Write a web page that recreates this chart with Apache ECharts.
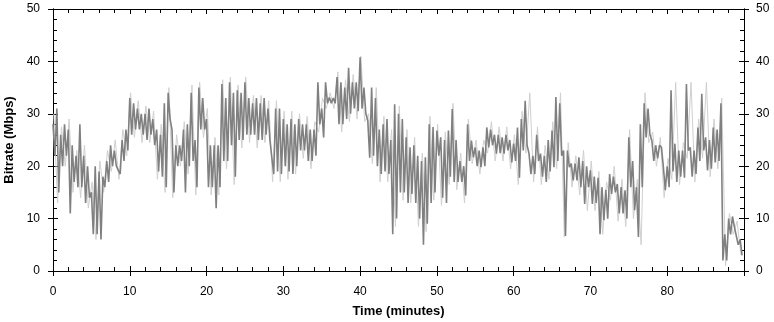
<!DOCTYPE html>
<html>
<head>
<meta charset="utf-8">
<script src="https://cdn.jsdelivr.net/npm/echarts@6/dist/echarts.min.js"></script>
<style>html,body{margin:0;padding:0;background:#fff;}#c{width:774px;height:322px;}</style>
</head>
<body>
<div id="c"></div>
<script>
// time step (minutes) between consecutive readings
const darkStep = 0.25;
const lightStep = 0.5;
// Bitrate (Mbps), dark trace (high/low pairs per half minute)
const darkValues = [
28,22, 31,15, 26,20, 28,22, 27,11, 24,17, 22,16, 28,16, 22,13, 20,14,
15,7, 20,7, 19,6, 18,16, 21,17, 24,20, 23,20, 20,18.5, 25,21, 27,23,
33,26, 32,27, 31,27, 30,26, 30,25, 31,26, 29,24, 27,19, 26,18, 32,16,
34,29, 27,15, 24,20, 24,21, 27,15, 28,20, 34,21, 25,16, 35,27, 33,27,
29,16, 24,16, 24,12, 24,16, 35.7,21, 33,21, 36,24, 34,18, 34.5,25, 34,25,
36,26, 33,26, 32,26, 33,25, 32,25, 33,26, 31,25, 25,18.5, 31,19, 31,18.5,
29,20, 28,19, 29,18.5, 28,20, 29,23, 28,23, 28,21, 27,21, 27,22, 36,28,
31,25.5, 36,32, 33.1,32, 33,32, 37,28, 36,28, 35,29, 38.8,30, 36,31, 36,30.5,
40.8,31, 35,30, 28.7,21.6, 35,22, 33,20, 27,18.5, 28,19, 29,18.5, 25,7, 31.8,10,
30,15, 29,15, 25.5,13, 23.6,14.7, 24,13, 22,10, 21,5, 21.7,9, 28,13, 27.5,15,
26.8,22, 25.5,14, 25,13, 26.8,18, 30.9,17, 25,17, 21,17, 20,14.4, 28,21, 24.9,21.7,
23.6,20, 23,19.8, 23.6,20, 27.4,23.6, 27,24, 26,22.4, 26,22.5, 25.5,22.4, 26,23, 25,20.7,
24.3,21, 27.4,17.8, 29,23, 32.5,24, 22.4,18.5, 22,18.5, 26,21, 22.4,18, 22,17, 25,19,
26.8,19.8, 33.2,21, 32,22, 23,6.7, 23,19.8, 20.5,17.3, 20.5,17.3, 21.7,16, 21,12.8, 20,16,
19.2,12.8, 18,13, 17.8,7, 16,9.7, 15.5,10, 18.5,14.7, 18,15, 16.6,11, 16,11, 15.4,10,
25.5,16, 21,11.6, 16,6.5, 28,16, 32,25.5, 31,26, 24.9,21, 24,21.5, 24,23.6, 19.8,15.4,
20,16, 34.5,19, 24.3,17, 23,18, 23,17.8, 35.7,23, 23.6,18, 23,18.5, 27.4,21, 33.8,23,
25.5,19.2, 25,19.5, 27.4,20.7, 27,21, 32,2, 7,2, 10,7, 10.4,8.4, 8.4,5, 6,3
];
// Bitrate (Mbps), light trace extremes, one reading per half minute
const lightValues = [
30,13,27.5,20,29,15,23,14,24,12, 17,6,21,15,23,19,25,17.5,27,22,
34,25.5,32.5,24.5,31.5,24.5,30.5,17.5,28,15, 35,14,26,20,28.5,18.5,35.5,14.5,36,25.5,
31,14.5,25.5,14.5,36.5,19.5,37,16.5,35.5,23.5, 37,24.5,33.5,23.5,33.5,24.5,32.5,17,32.5,17,
30.5,17.5,30.5,18.5,30,21.5,29.5,19.5,28.5,26.5, 33,31,34,31,38,26.5,36.5,28.5,37.5,29,
41,28.5,30,20.5,35,17,29.5,17,27,8.5, 31.5,13.5,27,13,25.5,8.5,22.5,7.5,29.5,13.5,
28,12.5,26.5,16.5,32,15.5,22.5,13,29,20.5, 25,18.5,25,22.5,28.5,21,27.5,21,27.5,19.5,
26,16.5,30.5,22.5,34,17,27.5,16.5,24,17.5, 28.5,19.5,34,6.5,24.5,16,22,14.5,23,11.5,
21,11.5,19,7,17,13.5,20,9.5,17.5,8.5, 27,10,17.5,5,34,24.5,26.5,20,25.5,14,
21.5,17.5,36,16.5,24.5,21.5,36,17,29,21.5, 36,18,29,19.5,33,1,11,7,9.5,3
];
const xTicks = [0, 10, 20, 30, 40, 50, 60, 70, 80];
const yTicks = [0, 10, 20, 30, 40, 50];

const darkData = darkValues.map((v, i) => [i * darkStep, v]);
const lightData = lightValues.map((v, i) => [i * lightStep + 0.1, v]);

const FONT = 'Liberation Sans';
const lineStyle = { color: '#000', width: 1 };
function xAx(pos, inside, labels) {
  return {
    type: 'value', position: pos, min: 0, max: 90, interval: 10,
    axisLine: { show: true, onZero: false, lineStyle },
    axisTick: { show: true, inside, length: 5, lineStyle },
    minorTick: { show: inside, splitNumber: 5, length: 4, lineStyle },
    splitLine: { show: false }, minorSplitLine: { show: false },
    axisLabel: labels ? {
      show: true, margin: 15, color: '#000', fontFamily: FONT, fontSize: 12,
      formatter: v => (xTicks.indexOf(v) >= 0 ? String(v) : '')
    } : { show: false },
    name: labels ? 'Time (minutes)' : '', nameLocation: 'middle', nameGap: 34,
    nameTextStyle: { color: '#000', fontFamily: 'Liberation Sans', fontWeight: 'bold', fontSize: 13 }
  };
}
function yAx(pos, inside, labels, named) {
  return {
    type: 'value', position: pos, min: 0, max: 50, interval: 10,
    axisLine: { show: true, onZero: false, lineStyle },
    axisTick: { show: true, inside, length: 5, lineStyle },
    minorTick: { show: inside, splitNumber: 5, length: 4, lineStyle },
    splitLine: { show: false }, minorSplitLine: { show: false },
    axisLabel: labels ? {
      show: true, margin: pos === 'left' ? 13 : 12, color: '#000', fontFamily: FONT, fontSize: 12,
      formatter: v => (yTicks.indexOf(v) >= 0 ? String(v) : '')
    } : { show: false },
    name: named ? 'Bitrate (Mbps)' : '', nameLocation: 'middle', nameGap: 27, nameRotate: 90,
    nameTextStyle: { color: '#000', fontFamily: 'Liberation Sans', fontWeight: 'bold', fontSize: 13 }
  };
}

const chart = echarts.init(document.getElementById('c'), null, { renderer: 'canvas' });
chart.setOption({
  animation: false,
  backgroundColor: '#fff',
  grid: { left: 53, right: 30, top: 9, bottom: 51, containLabel: false, outerBoundsMode: 'none' },
  xAxis: [xAx('bottom', true, true), xAx('bottom', false, false), xAx('top', true, false)],
  yAxis: [yAx('left', true, true, true), yAx('left', false, false, false),
          yAx('right', true, true, false), yAx('right', false, false, false)],
  series: [
    { type: 'line', data: lightData, xAxisIndex: 0, yAxisIndex: 0, showSymbol: false, symbol: 'none',
      lineStyle: { color: '#d0d0d0', width: 1 }, sampling: null, z: 1 },
    { type: 'line', data: darkData, xAxisIndex: 0, yAxisIndex: 0, showSymbol: false, symbol: 'none',
      lineStyle: { color: '#808080', width: 1.6 }, sampling: null, z: 2 }
  ]
});
</script>
</body>
</html>
